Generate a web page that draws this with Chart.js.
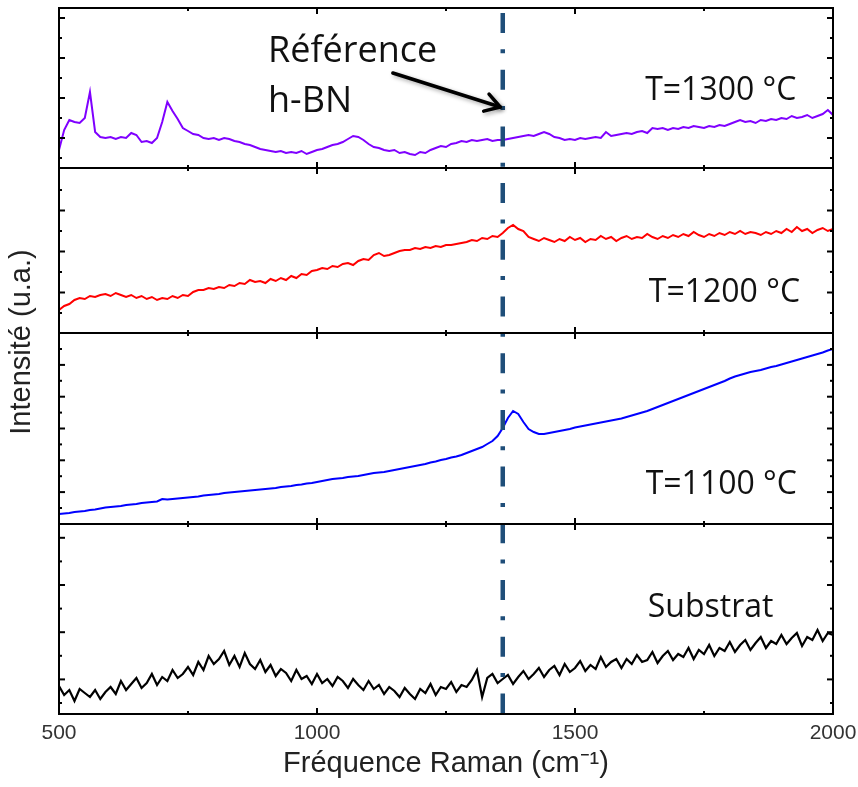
<!DOCTYPE html>
<html lang="fr">
<head>
<meta charset="utf-8">
<title>Spectres Raman</title>
<script src="https://cdn.jsdelivr.net/npm/chart.js@4.4.1/dist/chart.umd.min.js"></script>
<style>
  html, body { margin: 0; padding: 0; background: #fff; }
  #wrap { width: 858px; height: 787px; }
</style>
</head>
<body>
<div id="wrap"><canvas id="ramanChart" width="858" height="787"></canvas></div>
<script>
// nombre d'onde (cm-1)
const shift = [
  500, 510, 520, 530, 540, 550, 560, 570, 580, 590,
  600, 610, 620, 630, 640, 650, 660, 670, 680, 690,
  700, 710, 720, 730, 740, 750, 760, 770, 780, 790,
  800, 810, 820, 830, 840, 850, 860, 870, 880, 890,
  900, 910, 920, 930, 940, 950, 960, 970, 980, 990,
  1000, 1010, 1020, 1030, 1040, 1050, 1060, 1070, 1080, 1090,
  1100, 1110, 1120, 1130, 1140, 1150, 1160, 1170, 1180, 1190,
  1200, 1210, 1220, 1230, 1240, 1250, 1260, 1270, 1280, 1290,
  1300, 1310, 1320, 1330, 1340, 1350, 1360, 1370, 1380, 1390,
  1400, 1410, 1420, 1430, 1440, 1450, 1460, 1470, 1480, 1490,
  1500, 1510, 1520, 1530, 1540, 1550, 1560, 1570, 1580, 1590,
  1600, 1610, 1620, 1630, 1640, 1650, 1660, 1670, 1680, 1690,
  1700, 1710, 1720, 1730, 1740, 1750, 1760, 1770, 1780, 1790,
  1800, 1810, 1820, 1830, 1840, 1850, 1860, 1870, 1880, 1890,
  1900, 1910, 1920, 1930, 1940, 1950, 1960, 1970, 1980, 1990,
  2000
];

// intensites (u.a.) lues sur chaque panneau
const t1300 = [
  18, 38, 48, 46, 45, 50, 76, 36, 31, 30,
  31, 29, 31, 30, 35, 33, 26, 27, 25, 30,
  46, 66, 57, 49, 40, 37, 34, 33, 30, 29,
  30, 28, 30, 29, 27, 26, 24, 23, 21, 19,
  18, 17, 16, 17, 15, 16, 15, 17, 14, 16,
  18, 19, 21, 23, 24, 26, 29, 32, 31, 28,
  24, 21, 20, 18, 17, 18, 15, 16, 14, 13,
  16, 15, 18, 20, 22, 21, 24, 25, 27, 26,
  28, 27, 28, 29, 27, 28, 28, 29, 30, 31,
  32, 33, 32, 34, 36, 34, 31, 30, 28, 29,
  28, 30, 29, 30, 31, 30, 36, 32, 33, 34,
  35, 34, 36, 37, 35, 40, 39, 40, 38, 40,
  39, 41, 40, 42, 41, 40, 42, 41, 43, 42,
  44, 46, 48, 46, 47, 45, 48, 47, 49, 48,
  50, 49, 52, 50, 51, 53, 50, 52, 54, 58,
  53
];
const t1200 = [
  23, 27, 29, 33, 35, 34, 37, 36, 38, 39,
  37, 40, 38, 36, 38, 35, 37, 34, 36, 33,
  35, 34, 37, 35, 38, 37, 41, 43, 43, 45,
  44, 46, 45, 48, 47, 50, 49, 53, 51, 52,
  50, 54, 52, 55, 53, 57, 55, 59, 58, 62,
  63, 65, 64, 67, 66, 69, 70, 68, 72, 74,
  73, 78, 80, 77, 78, 80, 82, 83, 83, 85,
  84, 86, 85, 87, 86, 88, 88, 89, 90, 91,
  93, 92, 95, 94, 97, 96, 100, 105, 108, 104,
  102, 96, 94, 92, 95, 93, 91, 94, 92, 96,
  93, 95, 91, 94, 93, 97, 94, 96, 92, 95,
  97, 94, 96, 95, 99, 96, 94, 97, 95, 98,
  96, 99, 97, 101, 98, 96, 99, 97, 100, 98,
  101, 99, 102, 99, 101, 100, 98, 101, 99, 102,
  100, 104, 101, 106, 102, 104, 100, 103, 105, 102,
  104
];
const t1100 = [
  10, 10.5, 11, 12, 12.5, 13, 14, 14.5, 15.5, 16.5,
  17, 17.5, 18, 19, 19.5, 20, 21, 21.5, 22, 22.5,
  25, 24.5, 25, 25.5, 26, 26.5, 27, 27.5, 28.5, 29,
  29.5, 30, 31, 31.5, 32, 32.5, 33, 33.5, 34, 34.5,
  35, 35.5, 36, 37, 37.5, 38, 39, 39.5, 40.5, 41,
  42, 43, 44, 45, 45.5, 46, 47, 47.5, 48, 49,
  50, 51, 51.5, 52, 53, 54, 55, 56, 57, 58,
  59, 60, 61.5, 62.5, 64, 65, 66.5, 67.5, 69, 71,
  73, 75, 77, 80, 83, 88, 96, 106, 113, 110,
  102, 95, 92, 90, 90, 91, 92, 93, 94, 95,
  96.5, 97.5, 98.5, 99.5, 100.5, 101.5, 102.5, 103.5, 104.5, 105.5,
  107, 108.5, 110, 111.5, 113, 115, 117, 119, 121, 123,
  125, 127, 129, 131, 133, 135, 137, 139, 141, 143,
  145.5, 147.5, 149, 150.5, 152, 153, 154, 155.5, 157, 158,
  159.5, 161, 162.5, 164, 165.5, 167, 168.5, 170, 171.5, 173.5,
  175
];
const substrat = [
  28, 19, 24, 13, 25, 21, 17, 24, 15, 22,
  27, 20, 33, 24, 30, 36, 26, 31, 40, 29,
  37, 33, 44, 36, 40, 47, 39, 52, 44, 58,
  50, 55, 63, 49, 58, 47, 61, 50, 45, 54,
  42, 49, 38, 45, 41, 33, 44, 35, 38, 30,
  40, 31, 35, 28, 37, 33, 26, 35, 29, 24,
  33, 25, 29, 20, 27, 23, 17, 26, 20, 15,
  25, 21, 30, 19, 27, 25, 32, 22, 29, 27,
  34, 44, 17, 36, 40, 31, 35, 39, 30, 37,
  43, 35, 40, 46, 37, 44, 48, 39, 50, 42,
  46, 53, 43, 49, 45, 57, 47, 52, 55, 46,
  55, 50, 59, 52, 54, 62, 51, 58, 63, 54,
  60, 57, 66, 55, 64, 60, 69, 58, 66, 63,
  72, 62, 69, 74, 64, 71, 77, 66, 73, 70,
  79, 70, 76, 81, 68, 77, 74, 84, 73, 81,
  79
];

const xTicks = [500, 750, 1000, 1250, 1500, 1750, 2000];
const xLabels = ['500', '', '1000', '', '1500', '', '2000'];
const hbnShift = 1360;

// un panneau par spectre, de haut en bas
const panelIds = ['p1300', 'p1200', 'p1100', 'pSub'];
const panelMax = [160, 165, 191, 190];
const yTickFirst = [10, 20, 16, 11];
const yTickStep = [20, 20.5, 15.9, 23.6];
const yTickCount = [8, 7, 11, 8];

const series = [
  { label: 'T=1300 °C', values: t1300, color: '#7f00ff', width: 2 },
  { label: 'T=1200 °C', values: t1200, color: '#ff0000', width: 2 },
  { label: 'T=1100 °C', values: t1100, color: '#0000ff', width: 2 },
  { label: 'Substrat', values: substrat, color: '#000000', width: 2.2 }
];

const sansFont = '"Liberation Sans", Arial, sans-serif';
const noteFont = '"Open Sans", "Noto Sans", sans-serif';

function panelScale(i) {
  return {
    type: 'linear',
    position: 'left',
    stack: 'raman',
    stackWeight: panelMax[i],
    weight: 4 - i,
    min: 0,
    max: panelMax[i],
    ticks: { display: false },
    grid: { display: false, drawTicks: false },
    border: { display: false },
    afterFit: axis => { axis.width = 0; }
  };
}

const scales = {
  x: {
    type: 'linear',
    min: 500,
    max: 2000,
    afterBuildTicks: axis => { axis.ticks = xTicks.map(v => ({ value: v })); },
    afterFit: axis => {
      axis.height = 70;
      axis.paddingLeft = 0;
      axis.paddingRight = 0;
    },
    ticks: {
      autoSkip: false,
      maxRotation: 0,
      padding: 7,
      color: '#333',
      font: { family: sansFont, size: 21 },
      callback: (v, i) => xLabels[i]
    },
    grid: { display: false, drawTicks: false },
    border: { display: false },
    title: {
      display: true,
      text: 'Fréquence Raman (cm⁻¹)',
      color: '#222',
      font: { family: sansFont, size: 29 },
      padding: { top: 2, bottom: 3 }
    }
  }
};
panelIds.forEach((id, i) => { scales[id] = panelScale(i); });

// cadres, graduations internes, ligne h-BN et textes
const cadre = {
  id: 'cadre',
  afterDatasetsDraw(chart) {
    const { ctx, chartArea: ca } = chart;
    const x = chart.scales.x;
    const p1 = chart.scales.p1300;

    function seg(x0, y0, x1, y1) {
      ctx.beginPath(); ctx.moveTo(x0, y0); ctx.lineTo(x1, y1); ctx.stroke();
    }

    ctx.save();

    // ligne de reference h-BN
    const xr = x.getPixelForValue(hbnShift);
    ctx.strokeStyle = '#1f4e79';
    ctx.lineWidth = 4.5;
    ctx.setLineDash([20, 16.3, 4, 16.4]);
    seg(xr, ca.top + 5, xr, ca.bottom);
    ctx.setLineDash([]);

    // cadres et graduations
    ctx.strokeStyle = '#000';
    ctx.lineWidth = 2;
    panelIds.forEach((id, i) => {
      const s = chart.scales[id];
      ctx.strokeRect(ca.left, s.top, ca.right - ca.left, s.bottom - s.top);
      for (let k = 0; k < yTickCount[i]; k++) {
        const py = s.getPixelForValue(yTickFirst[i] + k * yTickStep[i]);
        const len = k % 2 === 1 ? 6 : 3;
        seg(ca.left, py, ca.left + len, py);
        seg(ca.right, py, ca.right - len, py);
      }
      xTicks.forEach((v, k) => {
        if (k === 0 || k === xTicks.length - 1) return;
        const px = x.getPixelForValue(v);
        const len = xLabels[k] ? 6 : 3;
        seg(px, s.top, px, s.top + len);
        seg(px, s.bottom, px, s.bottom - len);
      });
    });

    // fleche vers la ligne de reference
    const ax0 = x.getPixelForValue(1147), ay0 = p1.getPixelForValue(95);
    const ax1 = x.getPixelForValue(1355), ay1 = p1.getPixelForValue(61);
    const ang = Math.atan2(ay1 - ay0, ax1 - ax0);
    ctx.shadowColor = 'rgba(0,0,0,0.35)';
    ctx.shadowBlur = 4;
    ctx.shadowOffsetX = 2;
    ctx.shadowOffsetY = 2;
    ctx.lineWidth = 3.5;
    ctx.lineCap = 'round';
    ctx.lineJoin = 'round';
    seg(ax0, ay0, ax1, ay1);
    ctx.beginPath();
    ctx.moveTo(ax1 - 17 * Math.cos(ang - 0.55), ay1 - 17 * Math.sin(ang - 0.55));
    ctx.lineTo(ax1, ay1);
    ctx.lineTo(ax1 - 17 * Math.cos(ang + 0.55), ay1 - 17 * Math.sin(ang + 0.55));
    ctx.stroke();
    ctx.shadowColor = 'transparent';

    // textes
    ctx.fillStyle = '#111';
    ctx.textAlign = 'left';
    ctx.textBaseline = 'alphabetic';
    ctx.font = '36px ' + noteFont;
    ctx.fillText('Référence', x.getPixelForValue(905), p1.getPixelForValue(106));
    ctx.fillText('h-BN', x.getPixelForValue(905), p1.getPixelForValue(56));
    ctx.font = '32px ' + noteFont;
    const noteAt = [[1636, 68], [1643, 31], [1637, 30], [1641, 97]];
    series.forEach((s, i) => {
      const sc = chart.scales[panelIds[i]];
      ctx.fillText(s.label, x.getPixelForValue(noteAt[i][0]), sc.getPixelForValue(noteAt[i][1]));
    });

    // titre de l'axe vertical
    ctx.fillStyle = '#222';
    ctx.font = '29px ' + sansFont;
    ctx.textAlign = 'center';
    ctx.textBaseline = 'middle';
    ctx.translate(ca.left - 37, ca.top + 334);
    ctx.rotate(-Math.PI / 2);
    ctx.fillText('Intensité (u.a.)', 0, 0);

    ctx.restore();
  }
};

new Chart(document.getElementById('ramanChart'), {
  type: 'line',
  data: {
    datasets: series.map((s, i) => ({
      label: s.label,
      data: shift.map((w, k) => ({ x: w, y: s.values[k] })),
      yAxisID: panelIds[i],
      borderColor: s.color,
      borderWidth: s.width,
      pointRadius: 0,
      tension: 0,
      fill: false
    }))
  },
  options: {
    responsive: false,
    animation: false,
    layout: { padding: { left: 59, right: 25, top: 8, bottom: 3 } },
    plugins: { legend: { display: false }, tooltip: { enabled: false } },
    scales: scales
  },
  plugins: [cadre]
});
</script>
</body>
</html>
